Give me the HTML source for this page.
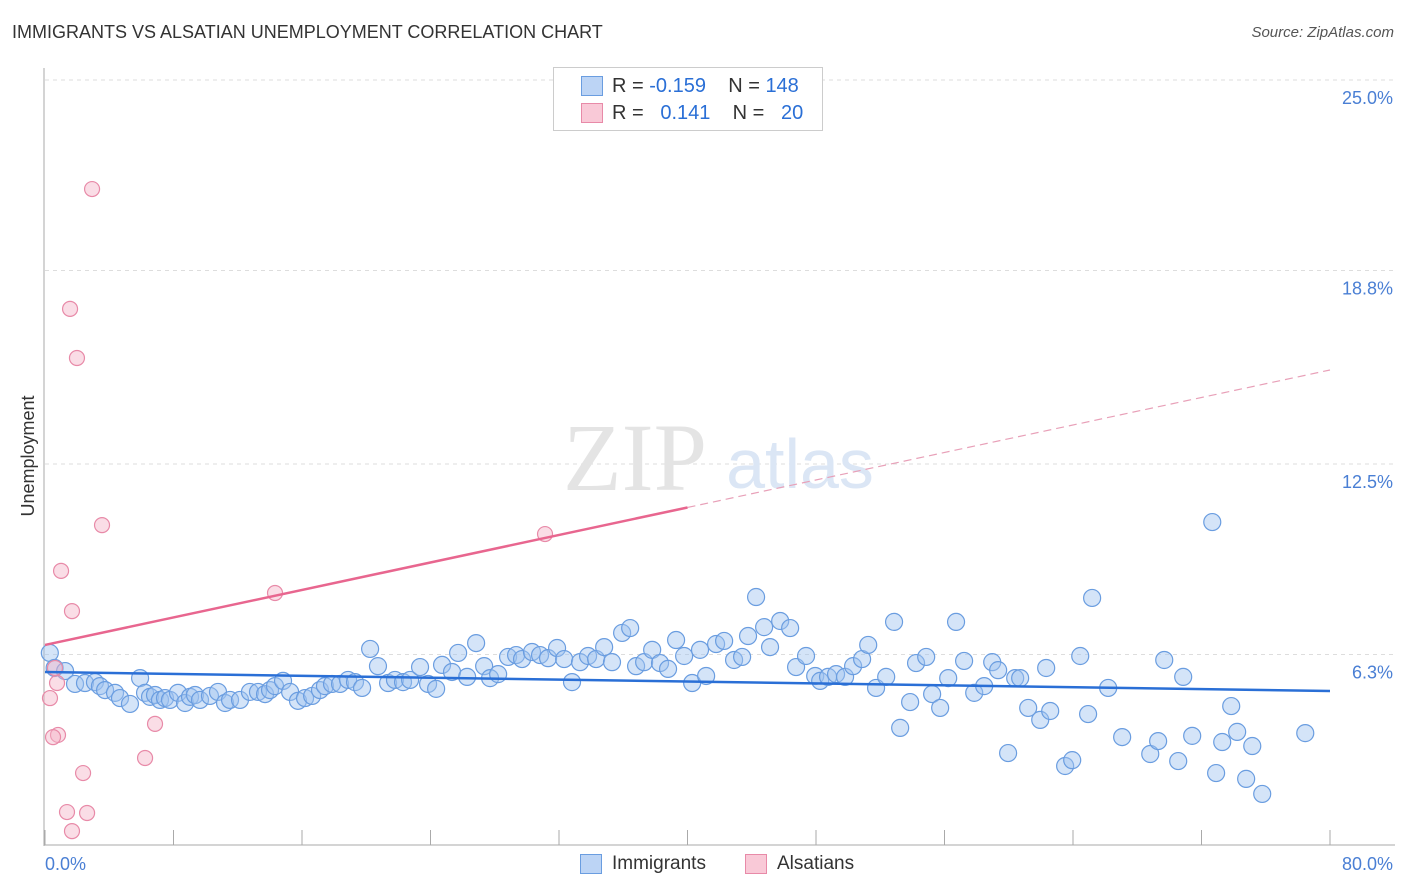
<!DOCTYPE html>
<html><head><meta charset="utf-8"><style>
body{margin:0;background:#fff;font-family:"Liberation Sans",sans-serif;}
#wrap{position:relative;width:1406px;height:892px;overflow:hidden;}
.t{position:absolute;white-space:nowrap;}
</style></head><body>
<div id="wrap">
<div class="t" style="left:12px;top:22px;font-size:18px;color:#333;">IMMIGRANTS VS ALSATIAN UNEMPLOYMENT CORRELATION CHART</div>
<div class="t" style="right:12px;top:24px;font-size:15px;color:#555;font-style:italic;">Source: ZipAtlas.com</div>
<svg id="svg" width="1406" height="892" style="position:absolute;left:0;top:0"></svg>
</div>
<script>
const xTicks=[0,8,16,24,32,40,48,56,64,72,80];
const yTicks=[25,18.8,12.5,6.3];
const yTickLabels=["25.0%","18.8%","12.5%","6.3%"];
const xTickLabels=["0.0%","80.0%"];
const blueX=[0.3,0.6,1.25,1.87,2.49,3.11,3.42,3.74,4.36,4.67,5.29,5.92,6.23,6.54,6.85,7.16,7.47,7.78,8.28,8.72,9.03,9.34,9.65,10.27,10.77,11.21,11.52,12.14,12.76,13.26,13.7,14.01,14.32,14.82,15.26,15.75,16.19,16.63,17.12,17.43,17.87,18.37,18.87,19.3,19.74,20.24,20.73,21.36,21.79,22.29,22.73,23.35,23.85,24.35,24.72,25.34,25.72,26.28,26.84,27.34,27.71,28.21,28.83,29.33,29.7,30.32,30.82,31.32,31.88,32.32,32.81,33.31,33.81,34.31,34.81,35.3,35.93,36.43,36.8,37.3,37.8,38.29,38.79,39.29,39.79,40.29,40.78,41.16,41.78,42.28,42.9,43.4,43.77,44.27,44.77,45.14,45.77,46.39,46.76,47.38,47.95,48.26,48.75,49.25,49.81,50.31,50.87,51.25,51.74,52.37,52.86,53.24,53.86,54.23,54.86,55.23,55.73,56.23,56.72,57.22,57.85,58.47,58.97,59.34,59.96,60.4,60.71,61.21,61.96,62.33,62.58,63.51,63.95,64.45,64.94,65.19,66.19,67.06,68.81,69.3,69.68,70.55,70.86,71.42,72.67,72.91,73.29,73.85,74.22,74.78,75.16,75.78,78.46];
const blueY=[6.35,5.86,5.76,5.34,5.37,5.4,5.27,5.14,5.05,4.88,4.69,5.53,5.05,4.92,4.98,4.82,4.88,4.82,5.05,4.72,4.92,4.98,4.82,4.95,5.08,4.72,4.82,4.82,5.08,5.08,5.01,5.14,5.27,5.44,5.08,4.79,4.88,4.95,5.14,5.27,5.34,5.34,5.47,5.4,5.21,6.48,5.92,5.37,5.47,5.4,5.47,5.89,5.34,5.18,5.96,5.73,6.35,5.57,6.67,5.92,5.53,5.66,6.22,6.28,6.15,6.38,6.28,6.18,6.51,6.15,5.4,6.05,6.25,6.15,6.54,6.05,7.0,7.16,5.92,6.05,6.45,6.02,5.83,6.77,6.25,5.37,6.45,5.6,6.64,6.74,6.12,6.22,6.9,8.17,7.19,6.54,7.39,7.16,5.89,6.25,5.6,5.44,5.57,5.66,5.57,5.92,6.15,6.61,5.21,5.57,7.36,3.91,4.75,6.02,6.22,5.01,4.56,5.53,7.36,6.09,5.05,5.27,6.05,5.79,3.09,5.53,5.53,4.56,4.17,5.86,4.46,2.67,2.86,6.25,4.36,8.14,5.21,3.61,3.06,3.48,6.12,2.83,5.57,3.65,10.61,2.44,3.45,4.62,3.78,2.25,3.32,1.76,3.74];
const pinkX=[2.93,1.56,1.99,3.55,1.0,1.68,0.62,0.75,0.31,0.81,0.5,2.37,1.37,2.62,1.68,6.23,6.85,14.32,31.13];
const pinkY=[21.45,17.55,15.95,10.51,9.02,7.71,5.86,5.37,4.88,3.68,3.61,2.44,1.17,1.14,0.55,2.93,4.04,8.3,10.22];
const trendX=[0,80];
const blueTrend=[5.73,5.11];
const pinkTrend=[6.61,15.56];
const pinkSolidEnd=40;

const X=v=>45+v*16.0625, Y=v=>848-v*30.72;
const NS="http://www.w3.org/2000/svg", svg=document.getElementById('svg');
function mk(tag,attrs,parent){const e=document.createElementNS(NS,tag);for(const k in attrs)e.setAttribute(k,attrs[k]);(parent||svg).appendChild(e);return e;}

yTicks.forEach((v,i)=>{
 const g=mk('line',{x1:45,x2:1395,y1:Y(v),y2:Y(v),stroke:'#ddd','stroke-dasharray':'4,4'});
 
 
 const t=mk('text',{x:1393,y:Y(v)+24,'text-anchor':'end','font-size':18,fill:'#4a7fd4','font-family':'Liberation Sans'});
 t.textContent=yTickLabels[i];
 
 
});
const ax=mk('line',{x1:44,x2:44,y1:68,y2:846,stroke:'#aaa'});


const bx=mk('line',{x1:44,x2:1395,y1:845,y2:845,stroke:'#aaa'});


xTicks.forEach(v=>{
 const l=mk('line',{x1:X(v),x2:X(v),y1:830,y2:845,stroke:'#aaa'});
 
 
});
[[0,'start'],[80,'end']].forEach((p,i)=>{
 const t=mk('text',{x:i?1393:45,y:870,'text-anchor':p[1],'font-size':18,fill:'#4a7fd4','font-family':'Liberation Sans'});
 t.textContent=xTickLabels[i];
 
 
});
const yt=mk('text',{x:34,y:456,transform:'rotate(-90 34 456)','text-anchor':'middle','font-size':18,fill:'#333','font-family':'Liberation Sans'});
yt.textContent='Unemployment';


const w1=mk('text',{x:635,y:490,'text-anchor':'middle','font-size':96,fill:'#e4e4e4','font-family':'Liberation Serif'});
w1.textContent='ZIP';


const w2=mk('text',{x:800,y:488,'text-anchor':'middle','font-size':70,fill:'#dbe6f5','font-family':'Liberation Sans'});
w2.textContent='atlas';



blueX.forEach((v,i)=>{
 const c=mk('circle',{cx:X(v),cy:Y(blueY[i]),r:8.5,fill:'rgba(160,196,240,0.45)',stroke:'#6a9de0','stroke-width':1.2});
 
 
});
pinkX.forEach((v,i)=>{
 const c=mk('circle',{cx:X(v),cy:Y(pinkY[i]),r:7.5,fill:'rgba(245,180,200,0.45)',stroke:'#e88aa8','stroke-width':1.2});
 
 
});
const bl=mk('line',{x1:X(trendX[0]),y1:Y(blueTrend[0]),x2:X(trendX[1]),y2:Y(blueTrend[1]),stroke:'#2a6fd6','stroke-width':2.5});


const pAt=x=>pinkTrend[0]+(pinkTrend[1]-pinkTrend[0])*(x-trendX[0])/(trendX[1]-trendX[0]);
const pl=mk('line',{x1:X(trendX[0]),y1:Y(pinkTrend[0]),x2:X(pinkSolidEnd),y2:Y(pAt(pinkSolidEnd)),stroke:'#e8668f','stroke-width':2.5});


const pd=mk('line',{x1:X(pinkSolidEnd),y1:Y(pAt(pinkSolidEnd)),x2:X(trendX[1]),y2:Y(pinkTrend[1]),stroke:'#e8a0b8','stroke-width':1.2,'stroke-dasharray':'8,5'});


</script>
<div class="t" style="left:553px;top:67px;width:268px;height:62px;border:1px solid #ccc;background:#fff;font-size:20px;">
 <div style="position:absolute;left:27px;top:8px;width:20px;height:18px;background:#bcd4f5;border:1px solid #6a9de0;"></div>
 <div style="position:absolute;left:58px;top:7px;color:#333;">R = <span style="color:#2a6fd6">-0.159</span>&nbsp;&nbsp;&nbsp; N = <span style="color:#2a6fd6">148</span></div>
 <div style="position:absolute;left:27px;top:35px;width:20px;height:18px;background:#f9c9d7;border:1px solid #e88aa8;"></div>
 <div style="position:absolute;left:58px;top:34px;color:#333;">R = &nbsp;&nbsp;<span style="color:#2a6fd6">0.141</span>&nbsp;&nbsp;&nbsp; N = &nbsp;&nbsp;<span style="color:#2a6fd6">20</span></div>
</div>
<div class="t" style="left:580px;top:854px;width:20px;height:18px;background:#bcd4f5;border:1px solid #6a9de0;"></div>
<div class="t" style="left:612px;top:853px;font-size:19px;color:#333;">Immigrants</div>
<div class="t" style="left:745px;top:854px;width:20px;height:18px;background:#f9c9d7;border:1px solid #e88aa8;"></div>
<div class="t" style="left:777px;top:853px;font-size:19px;color:#333;">Alsatians</div>
</body></html>
